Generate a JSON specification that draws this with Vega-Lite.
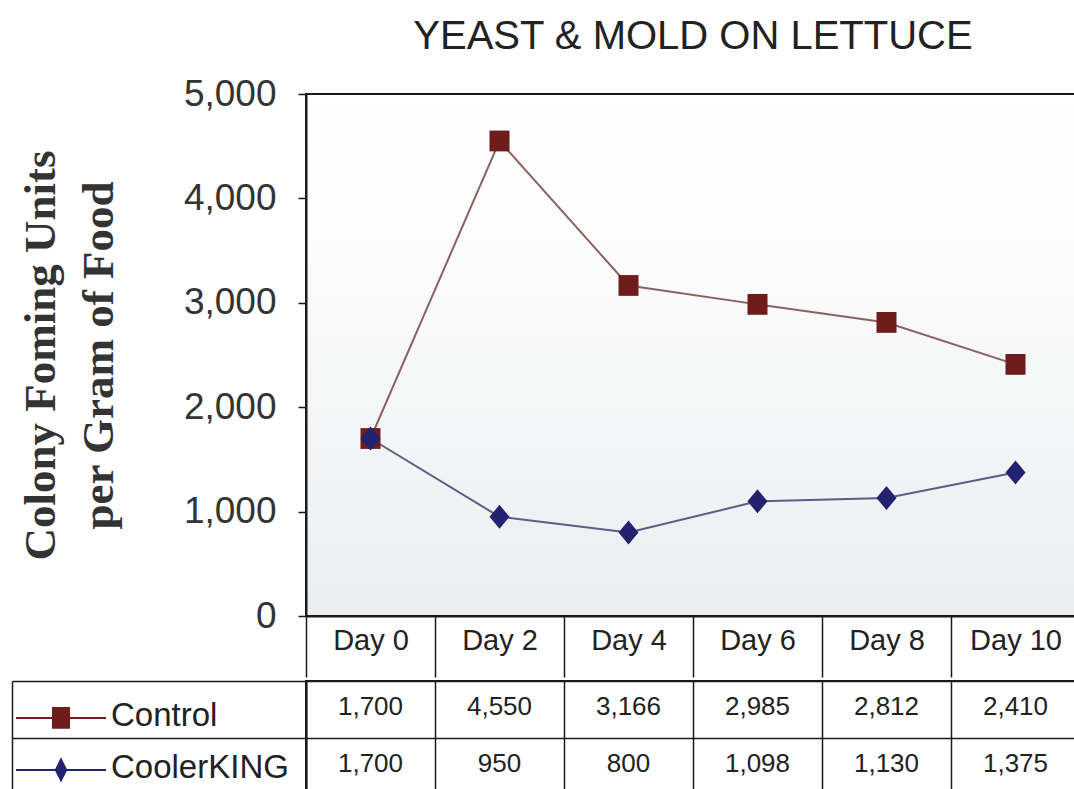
{
  "$schema": "https://vega.github.io/schema/vega-lite/v6.json",
  "background": "white",
  "padding": {"left": 10, "top": 16, "right": 0, "bottom": 0},
  "spacing": 0,
  "data": {"values": [
    {"day": "Day 0", "series": "Control", "value": 1700},
    {"day": "Day 2", "series": "Control", "value": 4550},
    {"day": "Day 4", "series": "Control", "value": 3166},
    {"day": "Day 6", "series": "Control", "value": 2985},
    {"day": "Day 8", "series": "Control", "value": 2812},
    {"day": "Day 10", "series": "Control", "value": 2410},
    {"day": "Day 0", "series": "CoolerKING", "value": 1700},
    {"day": "Day 2", "series": "CoolerKING", "value": 950},
    {"day": "Day 4", "series": "CoolerKING", "value": 800},
    {"day": "Day 6", "series": "CoolerKING", "value": 1098},
    {"day": "Day 8", "series": "CoolerKING", "value": 1130},
    {"day": "Day 10", "series": "CoolerKING", "value": 1375}
  ]},
  "resolve": {
    "scale": {"color": "independent", "shape": "independent", "stroke": "independent"},
    "legend": {"color": "independent", "shape": "independent", "stroke": "independent"}
  },
  "config": {
    "view": {"stroke": "#1a1a1a", "strokeWidth": 2},
    "axis": {"domainColor": "#1a1a1a", "tickColor": "#1a1a1a", "gridColor": "#1a1a1a", "gridOpacity": 1}
  },
  "vconcat": [
    {
      "width": 774,
      "height": 522,
      "title": {
        "text": "YEAST & MOLD ON LETTUCE",
        "anchor": "middle",
        "frame": "group",
        "font": "Liberation Sans",
        "fontSize": 40,
        "fontWeight": "normal",
        "color": "#222222",
        "offset": 18
      },
      "view": {
        "fill": {
          "gradient": "linear", "x1": 0, "y1": 0, "x2": 0, "y2": 1,
          "stops": [
            {"offset": 0, "color": "#ffffff"},
            {"offset": 0.35, "color": "#fbfbfb"},
            {"offset": 1, "color": "#eaeef0"}
          ]
        }
      },
      "encoding": {
        "x": {
          "field": "day", "type": "nominal",
          "sort": ["Day 0", "Day 2", "Day 4", "Day 6", "Day 8", "Day 10"],
          "scale": {"type": "band", "paddingInner": 0, "paddingOuter": 0},
          "axis": {
            "title": null, "grid": false, "tickBand": "extent",
            "tickSize": 61, "tickWidth": 1.5, "domainWidth": 2,
            "labelAngle": 0, "labelFont": "Liberation Sans", "labelFontSize": 29,
            "labelColor": "#222222", "labelBaseline": "middle", "labelPadding": -37
          }
        },
        "y": {
          "field": "value", "type": "quantitative",
          "scale": {"domain": [0, 5000], "nice": false},
          "axis": {
            "values": [0, 1000, 2000, 3000, 4000, 5000],
            "format": ",d",
            "grid": false,
            "tickSize": 8, "tickWidth": 1.5, "domainWidth": 2,
            "labelFont": "Liberation Sans",
            "labelFontSize": 37, "labelColor": "#333333", "labelPadding": 22,
            "title": ["Colony Foming Units", "per Gram of Food"],
            "titleFont": "Liberation Serif", "titleFontSize": 45, "titleFontWeight": "bold",
            "titleLineHeight": 58, "titleColor": "#333333", "titlePadding": 62
          }
        }
      },
      "layer": [
        {
          "mark": {"type": "line", "strokeWidth": 2},
          "encoding": {
            "stroke": {
              "field": "series", "type": "nominal",
              "scale": {"domain": ["Control", "CoolerKING"], "range": ["#8b6262", "#5c5c84"]},
              "legend": null
            }
          }
        },
        {
          "mark": {"type": "point", "filled": true, "opacity": 1, "size": 1600},
          "encoding": {
            "color": {
              "field": "series", "type": "nominal",
              "scale": {"domain": ["Control", "CoolerKING"], "range": ["#6e1c1c", "#222270"]},
              "legend": null
            },
            "shape": {
              "field": "series", "type": "nominal",
              "scale": {"domain": ["Control", "CoolerKING"], "range": ["M-0.5,-0.52H0.5V0.52H-0.5Z", "M0,-0.6L0.5,0L0,0.6L-0.5,0Z"]},
              "legend": null
            }
          }
        }
      ]
    },
    {
      "width": 774,
      "height": 114,
      "view": {"fill": "white"},
      "encoding": {
        "x": {
          "field": "day", "type": "nominal",
          "sort": ["Day 0", "Day 2", "Day 4", "Day 6", "Day 8", "Day 10"],
          "scale": {"type": "band", "paddingInner": 0, "paddingOuter": 0},
          "axis": {
            "title": null, "labels": false, "ticks": false, "domain": false,
            "grid": true, "tickBand": "extent", "gridWidth": 1.5
          }
        }
      },
      "layer": [
        {
          "mark": {"type": "text", "font": "Liberation Sans", "fontSize": 26, "color": "#222222", "baseline": "middle", "dy": -3},
          "encoding": {
            "y": {
              "field": "series", "type": "nominal", "sort": ["Control", "CoolerKING"],
              "scale": {"type": "band", "paddingInner": 0, "paddingOuter": 0},
              "axis": {
                "title": null, "labels": false, "grid": true, "tickBand": "extent",
                "gridWidth": 1.5, "tickSize": 294, "tickWidth": 1.5, "domainWidth": 2
              }
            },
            "text": {"field": "value", "type": "quantitative", "format": ","}
          }
        },
        {
          "mark": {"type": "point", "filled": true, "opacity": 0},
          "encoding": {
            "y": {
              "field": "series", "type": "nominal", "sort": ["Control", "CoolerKING"],
              "scale": {"type": "band", "paddingInner": 0, "paddingOuter": 0},
              "axis": {
                "orient": "left", "offset": 294, "title": null, "labels": false,
                "ticks": false, "grid": false, "domain": true, "domainWidth": 1.5
              }
            },
            "color": {
              "field": "series", "type": "nominal",
              "scale": {"domain": ["Control", "CoolerKING"], "range": ["#6e1c1c", "#222270"]},
              "legend": {
                "title": null, "orient": "none", "legendX": -290, "legendY": 0,
                "direction": "vertical", "symbolSize": 8100, "symbolOpacity": 1,
                "symbolStrokeWidth": 0, "labelFont": "Liberation Sans", "labelFontSize": 33,
                "labelBaseline": "alphabetic", "labelLimit": 400,
                "labelColor": "#222222", "labelOffset": 5, "rowPadding": -42, "padding": 0
              }
            },
            "shape": {
              "field": "series", "type": "nominal",
              "scale": {"domain": ["Control", "CoolerKING"], "range": ["M-1,-0.2H1V-0.155H-1Z M-0.2,-0.42H0.2V0.06H-0.2Z", "M-1,-0.2H1V-0.155H-1Z M0,-0.46L0.14,-0.18L0,0.1L-0.14,-0.18Z"]},
              "legend": {
                "title": null, "orient": "none", "legendX": -290, "legendY": 0,
                "direction": "vertical", "symbolSize": 8100, "symbolOpacity": 1,
                "symbolStrokeWidth": 0, "labelFont": "Liberation Sans", "labelFontSize": 33,
                "labelBaseline": "alphabetic", "labelLimit": 400,
                "labelColor": "#222222", "labelOffset": 5, "rowPadding": -42, "padding": 0
              }
            }
          }
        }
      ],
      "resolve": {"axis": {"y": "independent"}}
    }
  ]
}
